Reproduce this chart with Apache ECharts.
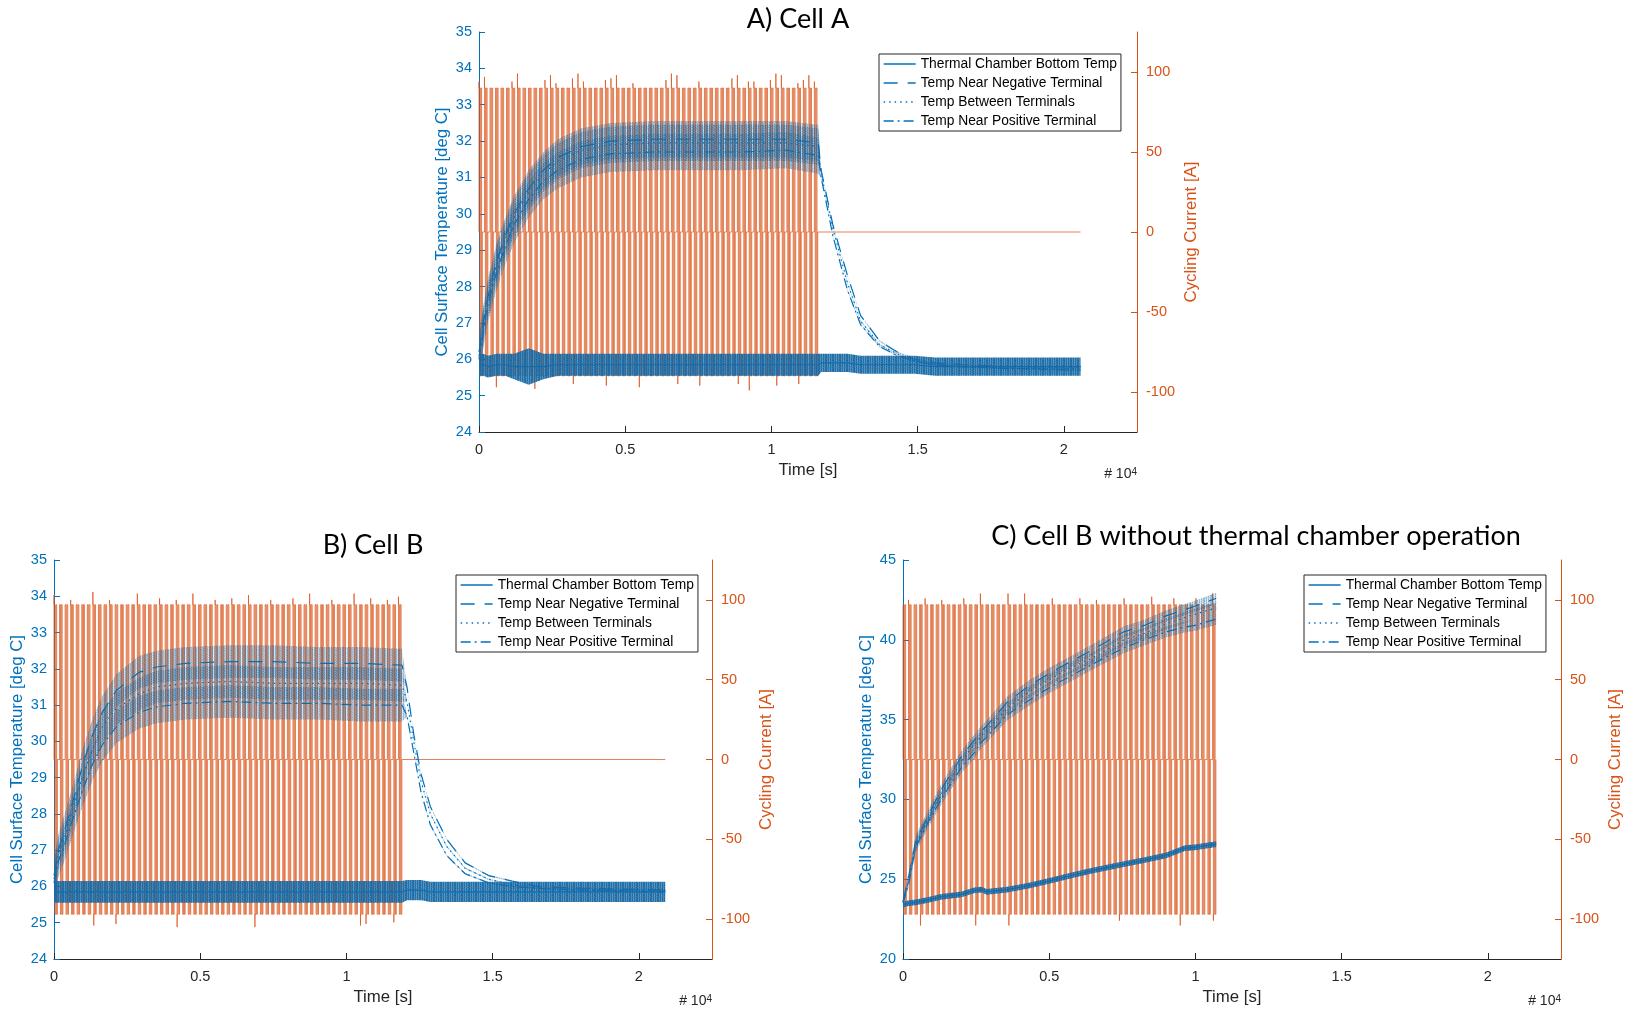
<!DOCTYPE html>
<html>
<head>
<meta charset="utf-8">
<title>Cell surface temperature and cycling current</title>
<script src="https://cdn.jsdelivr.net/npm/echarts@6/dist/echarts.min.js"></script>
<style>
html, body { margin: 0; padding: 0; background: #fff; }
#chart { width: 1635px; height: 1014px; }
</style>
</head>
<body>
<div id="chart"></div>
<script>
// ---- values ----
const seriesNames = ['Thermal Chamber Bottom Temp', 'Temp Near Negative Terminal', 'Temp Between Terminals', 'Temp Near Positive Terminal']
const xTicks = [0, 5000, 10000, 15000, 20000]
const currentTicks = [-100, -50, 0, 50, 100]
// one cycle of the current profile: seconds into the cycle where the current flips
const pulseEdges = [0, 30, 60, 90, 115]

// A) Cell A
const timeA = [0, 150, 300, 600, 900, 1200, 1700, 2200, 2700, 3500, 4500, 6000, 7500, 9000, 10500, 11600, 11700, 12100, 12600, 13050, 13700, 14300, 14900, 15600, 16500, 18000, 20570]
const chamberA = [25.85, 25.85, 25.8, 25.85, 25.85, 25.8, 25.8, 25.8, 25.85, 25.85, 25.85, 25.85, 25.85, 25.85, 25.85, 25.85, 25.9, 25.9, 25.9, 25.85, 25.85, 25.85, 25.85, 25.8, 25.8, 25.8, 25.8]
const chamberRippleA = [0.3, 0.3, 0.3, 0.3, 0.3, 0.35, 0.5, 0.35, 0.3, 0.3, 0.3, 0.3, 0.3, 0.3, 0.3, 0.3, 0.25, 0.25, 0.25, 0.25, 0.25, 0.25, 0.25, 0.25, 0.25, 0.25, 0.25]
const negA = [26.2, 27.0, 27.7, 28.7, 29.4, 30.0, 30.7, 31.2, 31.55, 31.85, 32.0, 32.05, 32.05, 32.05, 32.05, 31.95, 31.2, 29.7, 28.3, 27.2, 26.5, 26.2, 26.0, 25.9, 25.85, 25.8, 25.8]
const betweenA = [26.1, 26.9, 27.6, 28.6, 29.3, 29.9, 30.6, 31.1, 31.45, 31.75, 31.9, 31.95, 31.95, 31.95, 31.95, 31.85, 31.1, 29.6, 28.1, 27.05, 26.4, 26.15, 25.95, 25.85, 25.8, 25.75, 25.75]
const posA = [26.0, 26.8, 27.5, 28.4, 29.1, 29.7, 30.4, 30.9, 31.2, 31.5, 31.65, 31.7, 31.7, 31.7, 31.75, 31.6, 31.0, 29.4, 27.9, 26.95, 26.35, 26.1, 25.95, 25.85, 25.8, 25.75, 25.7]
const rippleA = [0.5, 0.5, 0.5, 0.5, 0.5, 0.5, 0.5, 0.5, 0.5, 0.5, 0.5, 0.5, 0.5, 0.5, 0.5, 0.5, 0.02, 0.02, 0.02, 0.02, 0.02, 0.02, 0.02, 0.02, 0.02, 0.02, 0.02]
const cycleA = { period: 188, count: 62, level: 90, end: 20570 }
const spikesTopA = [[0, 94], [1, 97], [6, 94], [7, 99], [12, 95], [13, 98], [14, 93], [17, 96], [18, 99], [19, 94], [23, 95], [24, 96], [25, 98], [28, 93], [34, 95], [35, 99], [36, 98], [40, 94], [46, 96], [47, 98], [49, 94], [50, 94], [53, 95], [54, 99], [55, 98], [58, 93], [59, 95], [60, 98], [61, 94]]
const spikesBottomA = [[3, -97], [10, -98], [17, -95], [23, -96], [29, -97], [36, -95], [40, -96], [47, -95], [49, -99], [54, -96], [58, -95]]

// B) Cell B
const timeB = [0, 150, 380, 700, 1000, 1330, 1650, 2130, 2900, 3500, 4500, 6000, 7500, 9000, 10500, 11900, 12070, 12300, 12550, 12870, 13430, 14060, 14860, 15650, 16500, 18000, 20900]
const chamberB = [25.85, 25.85, 25.85, 25.85, 25.85, 25.85, 25.85, 25.85, 25.85, 25.85, 25.85, 25.85, 25.85, 25.85, 25.85, 25.85, 25.9, 25.9, 25.9, 25.85, 25.85, 25.85, 25.85, 25.85, 25.85, 25.85, 25.85]
const chamberRippleB = [0.3, 0.3, 0.3, 0.3, 0.3, 0.3, 0.3, 0.3, 0.3, 0.3, 0.3, 0.3, 0.3, 0.3, 0.3, 0.3, 0.28, 0.28, 0.28, 0.28, 0.28, 0.28, 0.28, 0.28, 0.28, 0.28, 0.28]
const negB = [26.3, 27.0, 27.6, 28.5, 29.4, 30.2, 30.8, 31.4, 31.9, 32.05, 32.15, 32.2, 32.2, 32.15, 32.15, 32.1, 31.5, 30.2, 29.1, 28.2, 27.3, 26.65, 26.3, 26.15, 26.0, 25.95, 25.9]
const betweenB = [26.2, 26.9, 27.4, 28.3, 29.1, 29.8, 30.4, 30.9, 31.3, 31.5, 31.6, 31.65, 31.6, 31.6, 31.6, 31.55, 31.1, 30.0, 28.9, 28.0, 27.1, 26.5, 26.2, 26.05, 25.95, 25.9, 25.9]
const posB = [26.1, 26.7, 27.2, 28.0, 28.7, 29.4, 29.9, 30.4, 30.8, 30.95, 31.05, 31.1, 31.05, 31.05, 31.0, 31.0, 30.7, 29.7, 28.6, 27.7, 26.85, 26.35, 26.1, 26.0, 25.95, 25.9, 25.85]
const rippleB = [0.45, 0.45, 0.45, 0.45, 0.45, 0.45, 0.45, 0.45, 0.45, 0.45, 0.45, 0.45, 0.45, 0.45, 0.45, 0.45, 0.02, 0.02, 0.02, 0.02, 0.02, 0.02, 0.02, 0.02, 0.02, 0.02, 0.02]
const cycleB = { period: 190, count: 63, level: 97, end: 20900 }
const spikesTopB = [[0, 103], [3, 100], [7, 105], [10, 100], [15, 104], [19, 101], [22, 100], [25, 104], [29, 100], [32, 101], [35, 103], [39, 100], [43, 101], [46, 104], [50, 100], [54, 104], [57, 101], [60, 100], [62, 102]]
const spikesBottomB = [[7, -104], [11, -103], [22, -105], [36, -105], [55, -104], [56, -103], [61, -102]]

// C) Cell B without thermal chamber operation
const timeC = [0, 200, 434, 868, 1302, 2000, 2430, 2690, 2860, 3560, 4300, 5000, 5800, 6510, 7550, 8250, 9000, 9640, 9980, 10710]
const chamberC = [23.4, 23.5, 23.55, 23.7, 23.9, 24.05, 24.3, 24.35, 24.2, 24.35, 24.6, 24.9, 25.25, 25.55, 25.95, 26.2, 26.5, 26.95, 27.0, 27.2]
const chamberRippleC = [0.18, 0.18, 0.18, 0.18, 0.18, 0.18, 0.18, 0.18, 0.18, 0.18, 0.18, 0.18, 0.18, 0.18, 0.18, 0.18, 0.18, 0.18, 0.18, 0.18]
const negC = [23.6, 25.2, 27.4, 29.0, 30.6, 32.7, 33.7, 34.3, 34.6, 36.1, 37.1, 37.9, 38.7, 39.4, 40.5, 40.9, 41.5, 41.9, 42.1, 42.6]
const betweenC = [23.6, 25.0, 27.2, 28.8, 30.3, 32.4, 33.4, 34.0, 34.3, 35.7, 36.7, 37.5, 38.3, 38.9, 40.0, 40.4, 41.0, 41.4, 41.6, 42.0]
const posC = [23.5, 24.8, 27.0, 28.6, 30.0, 32.0, 32.9, 33.6, 33.9, 35.3, 36.2, 37.0, 37.8, 38.5, 39.5, 40.0, 40.5, 40.8, 40.9, 41.3]
const rippleC = [0.2, 0.3, 0.35, 0.35, 0.35, 0.35, 0.35, 0.35, 0.35, 0.35, 0.35, 0.35, 0.35, 0.35, 0.35, 0.35, 0.35, 0.35, 0.35, 0.35]
const cycleC = { period: 189, count: 57, level: 97, end: null }
const spikesTopC = [[1, 100], [4, 101], [7, 100], [11, 101], [14, 104], [19, 104], [22, 104], [27, 101], [32, 101], [35, 100], [40, 101], [45, 102], [49, 101], [53, 101], [56, 104]]
const spikesBottomC = [[3, -104], [13, -104], [19, -104], [39, -101], [50, -104], [56, -101]]

const BLUE = '#0072BD'
const ORANGE = '#D95319'
const INK = '#262626'
const FONT = 'Liberation Sans'

// current trace: the read cycle profile repeated for every cycle, then rest at 0 A
function currentTrace (cyc, topSpikes, bottomSpikes) {
  const top = Object.fromEntries(topSpikes)
  const bottom = Object.fromEntries(bottomSpikes)
  const pts = []
  for (let k = 0; k < cyc.count; k++) {
    const t0 = k * cyc.period
    pts.push([t0, 0])
    if (top[k]) pts.push([t0, top[k]])
    pts.push([t0, cyc.level])
    let sign = 1
    for (let i = 1; i < pulseEdges.length - 1; i++) {
      const t = t0 + pulseEdges[i]
      pts.push([t, sign * cyc.level])
      if (i === 1 && bottom[k]) pts.push([t, bottom[k]])
      sign = -sign
      pts.push([t, sign * cyc.level])
    }
    const tEnd = t0 + pulseEdges[pulseEdges.length - 1]
    pts.push([tEnd, sign * cyc.level])
    pts.push([tEnd, 0])
  }
  if (cyc.end) pts.push([cyc.end, 0])
  return pts
}

function bandPoints (time, mean, ripple) {
  const upper = time.map((t, i) => [t, mean[i] + ripple[i]])
  const lower = time.map((t, i) => [t, mean[i] - ripple[i]]).reverse()
  return upper.concat(lower)
}

// streaky fill so the ripple band reads like the dense trace in the figure
function streakPattern (strength, lift) {
  const cells = [
    [0.95, 0.35, 0.8, 0.2, 0.7, 0.45, 0.9],
    [0.85, 0.45, 0.7, 0.3, 0.9, 0.3, 0.6],
    [0.75, 0.25, 0.95, 0.25, 0.6, 0.55, 0.85],
    [0.9, 0.5, 0.65, 0.4, 0.8, 0.3, 0.7],
    [0.7, 0.3, 0.85, 0.2, 0.95, 0.4, 0.8]
  ]
  const c = document.createElement('canvas')
  c.width = cells[0].length
  c.height = cells.length
  const ctx = c.getContext('2d')
  cells.forEach((row, y) => row.forEach((a, x) => {
    const alpha = Math.min(1, a * strength + lift)
    const slate = (x + y) % 3 === 1
    ctx.fillStyle = slate ? `rgba(70,92,120,${alpha})` : `rgba(0,114,189,${alpha})`
    ctx.fillRect(x, y, 1, 1)
  }))
  return { image: c, repeat: 'repeat' }
}

function bandSeries (gi, pts, fill) {
  return {
    type: 'custom',
    xAxisIndex: gi,
    yAxisIndex: gi * 2,
    silent: true,
    z: 4,
    data: [pts[0]],
    renderItem: (params, api) => ({
      type: 'polygon',
      shape: { points: pts.map(p => api.coord(p)) },
      style: { fill: fill }
    })
  }
}

function traceSeries (gi, pts) {
  return {
    type: 'custom',
    xAxisIndex: gi,
    yAxisIndex: gi * 2 + 1,
    silent: true,
    z: 2,
    data: [pts[0]],
    renderItem: (params, api) => ({
      type: 'polyline',
      shape: { points: pts.map(p => api.coord(p)) },
      style: { stroke: ORANGE, lineWidth: 1, fill: null, opacity: 0.72 }
    })
  }
}

const dashes = ['solid', [14, 10], [1.5, 4], [10, 4, 2, 4]]

function lineSeries (gi, name, time, values, dash) {
  return {
    type: 'line',
    name: name,
    xAxisIndex: gi,
    yAxisIndex: gi * 2,
    data: time.map((t, i) => [t, values[i]]),
    symbol: 'none',
    z: 3,
    itemStyle: { color: BLUE },
    lineStyle: { color: BLUE, width: 1.2, type: dash }
  }
}

const chamberFill = streakPattern(0.45, 0.6)
const cellFill = streakPattern(0.55, 0)

function panelSeries (gi, time, chamber, chamberRipple, cells, ripple, cyc, topSpikes, bottomSpikes) {
  const list = [traceSeries(gi, currentTrace(cyc, topSpikes, bottomSpikes))]
  list.push(lineSeries(gi, seriesNames[0], time, chamber, dashes[0]))
  cells.forEach((c, i) => list.push(lineSeries(gi, seriesNames[i + 1], time, c, dashes[i + 1])))
  list.push(bandSeries(gi, bandPoints(time, chamber, chamberRipple), chamberFill))
  cells.forEach(c => list.push(bandSeries(gi, bandPoints(time, c, ripple), cellFill)))
  return list
}

const grids = [
  { left: 479, top: 32, width: 658, height: 400 },
  { left: 54, top: 560, width: 658, height: 399 },
  { left: 903, top: 560, width: 658, height: 399 }
]
const tempRange = [[24, 35, 1], [24, 35, 1], [20, 45, 5]]

const xAxes = grids.map((g, gi) => ({
  type: 'value',
  gridIndex: gi,
  min: 0,
  max: 22500,
  interval: 5000,
  splitLine: { show: false },
  axisLine: { onZero: false, lineStyle: { color: INK } },
  axisTick: { inside: true, length: 6, customValues: xTicks, lineStyle: { color: INK } },
  axisLabel: { customValues: xTicks, formatter: v => String(v / 10000), color: INK, fontSize: 14.5, margin: 10, fontFamily: FONT },
  name: 'Time [s]',
  nameLocation: 'middle',
  nameGap: 30,
  nameTextStyle: { color: INK, fontSize: 16.8, fontFamily: FONT }
}))

const yAxes = []
grids.forEach((g, gi) => {
  yAxes.push({
    type: 'value',
    gridIndex: gi,
    position: 'left',
    min: tempRange[gi][0],
    max: tempRange[gi][1],
    interval: tempRange[gi][2],
    splitLine: { show: false },
    axisLine: { show: true, onZero: false, lineStyle: { color: BLUE } },
    axisTick: { show: true, inside: true, length: 6, lineStyle: { color: BLUE } },
    axisLabel: { color: BLUE, fontSize: 14.5, margin: 7, fontFamily: FONT },
    name: 'Cell Surface Temperature [deg C]',
    nameLocation: 'middle',
    nameGap: 28,
    nameTextStyle: { color: BLUE, fontSize: 16.8, fontFamily: FONT }
  })
  yAxes.push({
    type: 'value',
    gridIndex: gi,
    position: 'right',
    min: -125,
    max: 125,
    splitLine: { show: false },
    axisLine: { show: true, onZero: false, lineStyle: { color: ORANGE } },
    axisTick: { show: true, inside: true, length: 6, customValues: currentTicks, lineStyle: { color: ORANGE } },
    axisLabel: { customValues: currentTicks, color: ORANGE, fontSize: 14.5, margin: 9, fontFamily: FONT },
    name: 'Cycling Current [A]',
    nameLocation: 'middle',
    nameGap: 46,
    nameTextStyle: { color: ORANGE, fontSize: 16.8, fontFamily: FONT }
  })
})

const legendPos = [[879, 54], [456, 575], [1304, 575]]
const legends = legendPos.map(p => ({
  left: p[0],
  top: p[1],
  orient: 'vertical',
  data: seriesNames,
  selectedMode: false,
  itemWidth: 32,
  itemHeight: 14,
  itemGap: 5,
  padding: [3, 4, 3, 4],
  borderColor: INK,
  borderWidth: 1,
  backgroundColor: '#fff',
  itemStyle: { opacity: 0 },
  lineStyle: { width: 1.3 },
  textStyle: { color: '#000', fontSize: 13.8, fontFamily: FONT }
}))

const titles = [
  ['A) Cell A', 798, 19],
  ['B) Cell B', 373, 545],
  ['C) Cell B without thermal chamber operation', 1256, 536]
]
const graphics = titles.map(t => ({
  type: 'text',
  x: t[1],
  y: t[2],
  style: { text: t[0], fill: '#000', font: '27px Lato', align: 'center', verticalAlign: 'middle' }
}))
grids.forEach(g => {
  graphics.push({
    type: 'text',
    x: g.left + g.width,
    y: g.top + g.height + 42,
    style: {
      text: '{b|# 10}{s|4}',
      align: 'right',
      verticalAlign: 'middle',
      rich: {
        b: { fontSize: 14, fontFamily: FONT, fill: INK, color: INK },
        s: { fontSize: 10, fontFamily: FONT, fill: INK, color: INK, verticalAlign: 'top' }
      }
    }
  })
})

const series = [].concat(
  panelSeries(0, timeA, chamberA, chamberRippleA, [negA, betweenA, posA], rippleA, cycleA, spikesTopA, spikesBottomA),
  panelSeries(1, timeB, chamberB, chamberRippleB, [negB, betweenB, posB], rippleB, cycleB, spikesTopB, spikesBottomB),
  panelSeries(2, timeC, chamberC, chamberRippleC, [negC, betweenC, posC], rippleC, cycleC, spikesTopC, spikesBottomC)
)

const chart = echarts.init(document.getElementById('chart'), null, { renderer: 'canvas' })
chart.setOption({
  animation: false,
  backgroundColor: '#fff',
  grid: grids,
  xAxis: xAxes,
  yAxis: yAxes,
  legend: legends,
  graphic: graphics,
  series: series
})
</script>
</body>
</html>
